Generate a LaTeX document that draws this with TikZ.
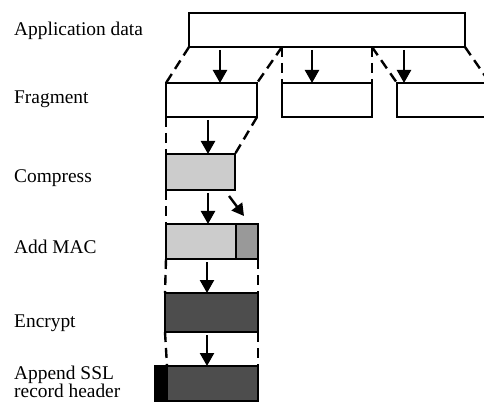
\documentclass[tikz,border=0pt]{standalone}
\usepackage{fontspec}
\setmainfont{Liberation Serif}
\usetikzlibrary{arrows.meta,positioning}
\definecolor{lightfill}{HTML}{CCCCCC}
\definecolor{macfill}{HTML}{999999}
\definecolor{encfill}{HTML}{4D4D4D}

\begin{document}
\begin{tikzpicture}[x=1pt, y=-1pt, line width=2.4pt,
    box/.style={draw, inner sep=0pt, outer sep=0pt, anchor=north west},
    lbl/.style={anchor=base west, inner sep=0pt, font=\fontsize{19.4}{16}\selectfont, align=left},
    arr/.style={-{Triangle[length=13pt, width=14pt]}, shorten <=3pt},
    dsh/.style={dash pattern=on 10pt off 6pt}]
        \useasboundingbox (0,0) rectangle (484,403);
        \clip (0,0) rectangle (484,403);

        % labels
        \node[lbl] (lapp) at (13,36) {Application data};
        \node[lbl] (lfrag) at (13,104) {Fragment};
        \node[lbl] (lcomp) at (13,183) {Compress};
        \node[lbl] (lmac) at (13,253) {Add MAC};
        \node[lbl] (lenc) at (13,327) {Encrypt};
        \node[lbl, anchor=west] (lssl) at (13,382) {Append SSL\\record header};

        % boxes
        \node[box, minimum width=276pt, minimum height=34pt] (appdata) at (189,13) {};
        \node[box, minimum width=91pt, minimum height=34pt] (frag1) at (166,83) {};
        \node[box, minimum width=90pt, minimum height=34pt] (frag2) at (282,83) {};
        \node[box, minimum width=110pt, minimum height=34pt] (frag3) at (397,83) {};
        \node[box, fill=lightfill, minimum width=69pt, minimum height=36pt] (comp) at (166,154) {};
        \node[box, fill=lightfill, minimum width=70pt, minimum height=35pt] (macdata) at (166,224) {};
        \node[box, fill=macfill, minimum width=22pt, minimum height=35pt] (mac) at (236,224) {};
        \node[box, fill=encfill, minimum width=93pt, minimum height=39pt] (enc) at (165,293) {};
        \node[box, fill=black, minimum width=12pt, minimum height=35pt] (hdr) at (155,366) {};
        \node[box, fill=encfill, minimum width=91pt, minimum height=35pt] (rec) at (167,366) {};
        \coordinate (frag4) at (490,83);

        % fragmenting
        \draw[dsh] (appdata.south west) -- (frag1.north west);
        \draw[dsh] (frag2.north west |- appdata.south) -- (frag1.north east);
        \draw[dsh] (frag2.north west |- appdata.south) -- (frag2.north west);
        \draw[dsh] (frag2.north east |- appdata.south) -- (frag2.north east);
        \draw[dsh] (frag2.north east |- appdata.south) -- (frag3.north west);
        \draw[dsh] (appdata.south east) -- (frag4);
        \draw[arr] ([xshift=54pt]frag1.north west |- appdata.south) -- ([xshift=54pt]frag1.north west);
        \draw[arr] ([xshift=30pt]frag2.north west |- appdata.south) -- ([xshift=30pt]frag2.north west);
        \draw[arr] ([xshift=7pt]frag3.north west |- appdata.south) -- ([xshift=7pt]frag3.north west);

        % record processing
        \draw[dsh] (frag1.south west) -- (comp.north west);
        \draw[dsh] (frag1.south east) -- (comp.north east);
        \draw[arr] ([xshift=42pt]comp.north west |- frag1.south) -- ([xshift=42pt]comp.north west);
        \draw[dsh] (comp.south west) -- (macdata.north west);
        \draw[arr] ([xshift=42pt]macdata.north west |- comp.south) -- ([xshift=42pt]macdata.north west);
        \draw[-{Triangle[length=12pt, width=13pt]}] ([shift={(-6,6)}]comp.south east) -- ([shift={(8,-8)}]mac.north west);
        \draw[dsh] (macdata.south west) -- (enc.north west);
        \draw[dsh] (mac.south east) -- (enc.north east);
        \draw[arr] ([xshift=42pt]enc.north west |- mac.south) -- ([xshift=42pt]enc.north west);
        \draw[dsh] (enc.south west) -- (rec.north west);
        \draw[dsh] (enc.south east) -- (rec.north east);
        \draw[arr] ([xshift=40pt]rec.north west |- enc.south) -- ([xshift=40pt]rec.north west);
\end{tikzpicture}
\end{document}
